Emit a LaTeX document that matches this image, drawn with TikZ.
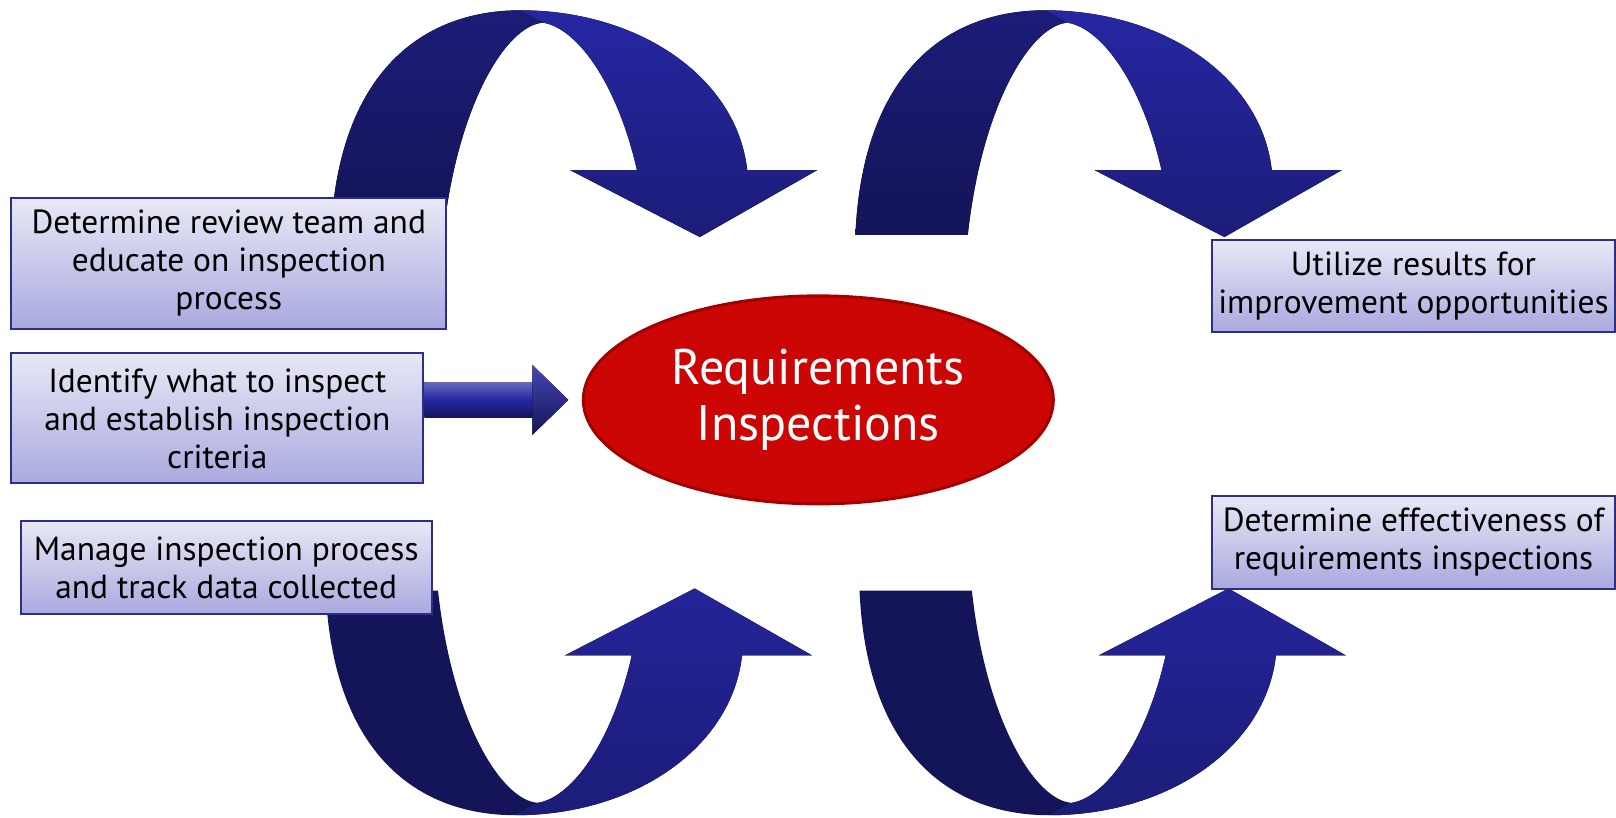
\documentclass[tikz,border=0pt]{standalone}
\usepackage{fontspec}
\setmainfont{PT Sans}
\usepackage{tikz}
\usepackage{xcolor}
\usetikzlibrary{shapes.geometric,calc}

\definecolor{boxtop}{HTML}{E8E8F6}
\definecolor{boxbot}{HTML}{A9A9DF}
\definecolor{boxline}{HTML}{2D2D8C}
\definecolor{navydark}{HTML}{141459}
\definecolor{navymid}{HTML}{1C1C78}
\definecolor{navylight}{HTML}{2626A2}
\definecolor{inspred}{HTML}{CC0505}
\definecolor{insprim}{HTML}{A30000}

\tikzset{
  taskbox/.style={draw=boxline, line width=1pt, top color=boxtop, bottom color=boxbot,
    anchor=north west, inner sep=0pt, align=center, font=\fontsize{16.7}{19}\selectfont},
  bandleft/.style={top color=navymid, bottom color=navydark},
  bandright/.style={top color=navylight, bottom color=navymid},
  shaftshade/.style={top color=navylight!70!white, bottom color=navydark, middle color=navylight},
  headshade/.style={top color=navylight!85!white, bottom color=navydark}
}

% one folded U-turn arrow, left part and right part with the head
\newcommand{\loopband}[2]{%
  \fill[#1] (321,228) .. controls (328,70) and (410,10) .. (505,10)
    -- (527,22) .. controls (492,24) and (444,100) .. (430,228) -- cycle;
  \fill[#2] (505,10) .. controls (620,10) and (715,75) .. (725,165)
    -- (793,165) -- (679,230) -- (553,165) -- (618,165)
    .. controls (600,85) and (562,28) .. (527,22) -- cycle;
}

\begin{document}
\begin{tikzpicture}[x=0.5153pt, y=-0.5153pt]
    \useasboundingbox (0,0) rectangle (1568,793);
    \foreach \dx in {0,509} { % top arrows
      \begin{scope}[shift={(\dx,0)}]
        \loopband{bandleft}{bandright}
      \end{scope}
    }
    \foreach \dx in {-5,513} { % bottom arrows, flipped
      \begin{scope}[shift={(\dx,801)}, yscale=-1]
        \loopband{fill=navydark}{bottom color=navymid, top color=navylight!80!navymid}
      \end{scope}
    }
    \node[taskbox, minimum width=217.5pt, minimum height=65.4pt] (team) at (10,191)
      {Determine review team and\\educate on inspection\\process};
    \node[taskbox, minimum width=206pt, minimum height=65pt] (idn) at (10,342)
      {Identify what to inspect\\and establish inspection\\criteria};
    \node[taskbox, minimum width=205.6pt, minimum height=46.4pt] (mng) at (19,505)
      {Manage inspection process\\and track data collected};
    \node[taskbox, minimum width=201.5pt, minimum height=45.9pt] (util) at (1175,232)
      {Utilize results for\\improvement opportunities};
    \node[taskbox, minimum width=201.5pt, minimum height=46.4pt] (eff) at (1175,480)
      {Determine effectiveness of\\requirements inspections};
    \node[ellipse, fill=inspred, draw=insprim, line width=1.5pt, minimum width=235pt,
      minimum height=104pt, inner sep=0pt, text=white, align=center,
      font=\fontsize{25}{28}\selectfont] (insp) at (794,388) {Requirements\\Inspections};
    % straight arrow into the ellipse
    \fill[shaftshade] ($(idn.east |- insp.west)+(0,-17)$) rectangle ($(insp.west)+(-48,17)$);
    \fill[headshade] ($(insp.west)+(-48,-34)$) -- ($(insp.west)+(-13,0)$)
      -- ($(insp.west)+(-48,34)$) -- cycle;
  \end{tikzpicture}
\end{document}
